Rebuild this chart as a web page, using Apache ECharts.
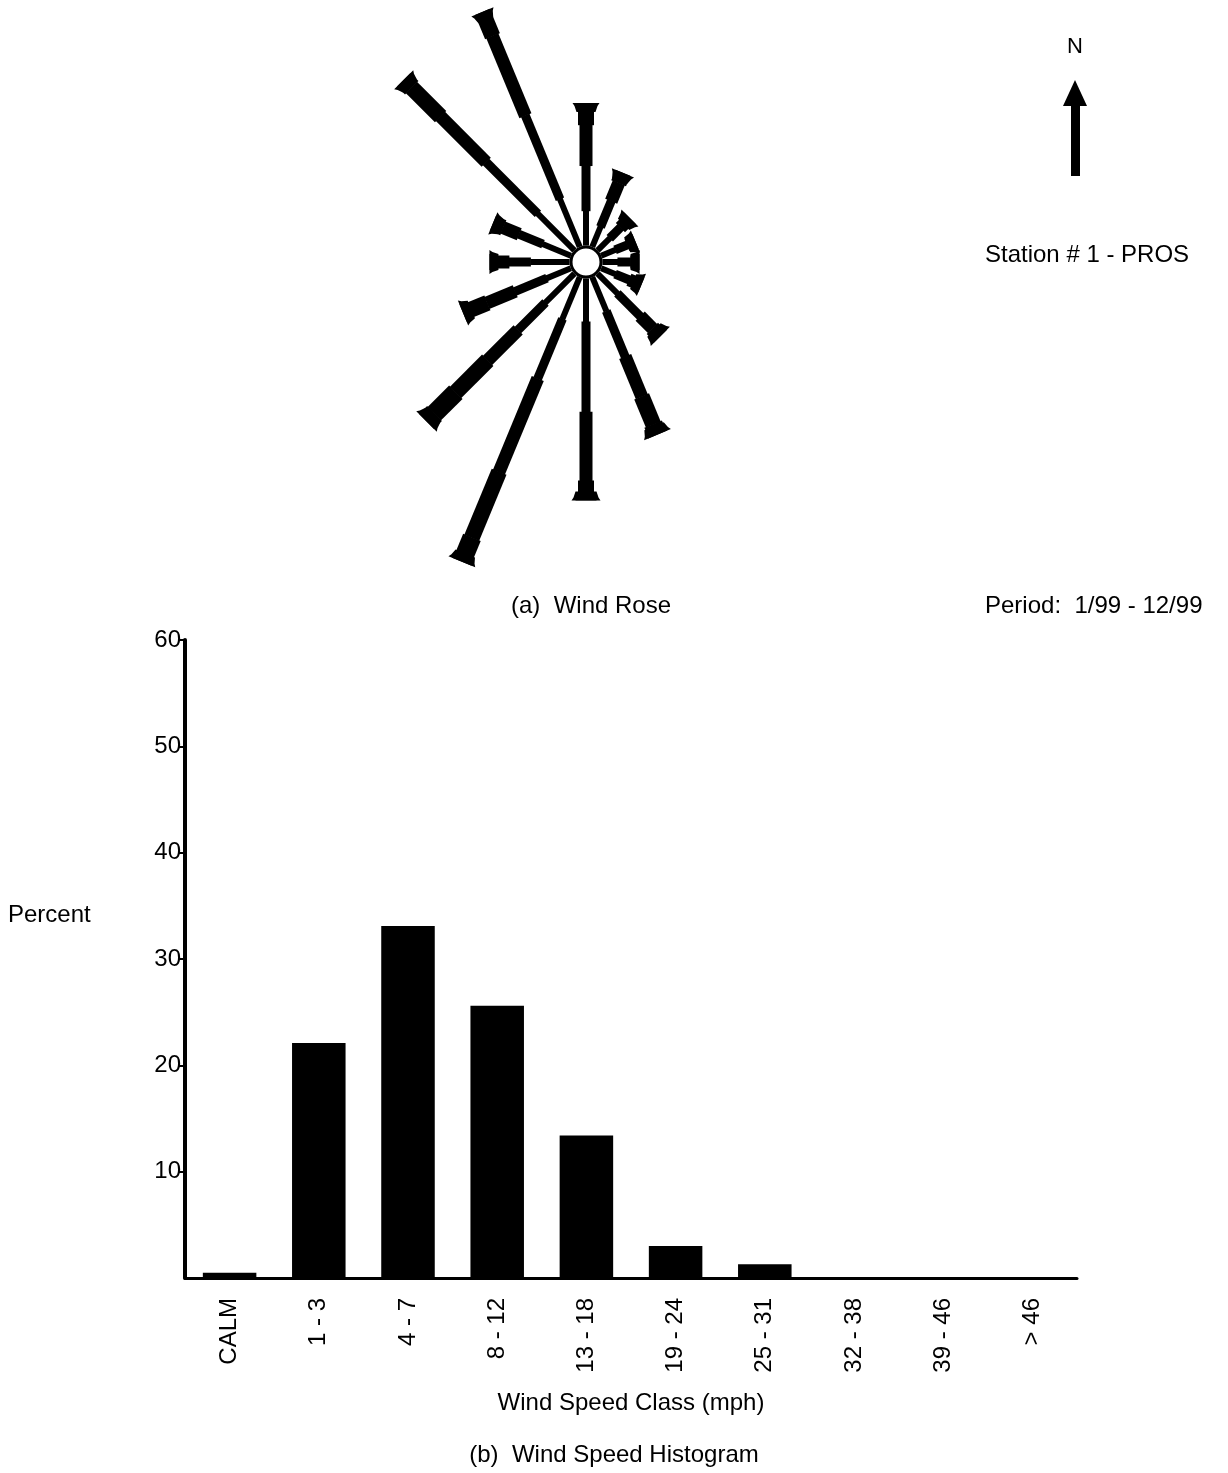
<!DOCTYPE html>
<html><head><meta charset="utf-8">
<script src="https://cdn.jsdelivr.net/npm/echarts@6/dist/echarts.min.js"></script>
<style>html,body{margin:0;padding:0;background:#fff}#c{width:1228px;height:1473px}</style>
</head><body><div id="c"></div>
<script>
// ---- Wind rose data (percent of time, per direction, per speed class) ----
const directions = ['N','NNE','NE','ENE','E','ESE','SE','SSE','S','SSW','SW','WSW','W','WNW','NW','NNW'];
const rose_1_3   = [1.6,1.0,0.8,0.7,0.7,0.7,1.3,1.7,2.0,2.1,1.9,1.2,1.8,1.4,2.4,2.4];
const rose_4_7   = [2.1,1.3,0.7,0.6,0.6,0.7,1.5,2.3,4.2,3.0,1.8,1.6,1.0,1.2,3.4,4.2];
const rose_8_12  = [1.9,0.9,0.4,0.3,0.3,0.4,0.8,2.0,3.2,4.7,2.0,1.4,0.6,0.8,3.0,4.0];
const rose_13_18 = [0.8,0.5,0.2,0.1,0.1,0.2,0.4,1.4,0.6,3.3,2.1,0.9,0.3,0.5,1.9,1.2];
const rose_19_24 = [0.2,0,0,0,0,0,0.1,0.4,0.2,1.0,1.4,0.3,0,0,0.5,0];
const rose_25_31 = [0,0,0,0,0,0,0,0.1,0.1,0.2,0.5,0,0,0,0,0];

// ---- Histogram data ----
const speedClasses = ['CALM','1 - 3','4 - 7','8 - 12','13 - 18','19 - 24','25 - 31','32 - 38','39 - 46','> 46'];
const speedPercent = [0.5,22.1,33.1,25.6,13.4,3.0,1.3,0,0,0];
const yMin = 0, yMax = 60, yStep = 10;

const FONT = "'Liberation Sans',Arial,sans-serif";
const FS = 24;
const WIDTHS = [6,9,13,16,19,21];
const R0 = 17;

const roseData = directions.map((d,i)=>[i, rose_1_3[i], rose_4_7[i], rose_8_12[i], rose_13_18[i], rose_19_24[i], rose_25_31[i]]);

function renderSpoke(params, api){
  const idx = api.value(0);
  const th = idx*22.5*Math.PI/180;
  const c = api.coord([0,0]);
  const unit = api.size([1,1])[0];
  const ux=Math.sin(th), uy=-Math.cos(th);
  const px=Math.cos(th), py=Math.sin(th);
  const P=(r,w)=>[c[0]+ux*r+px*w, c[1]+uy*r+py*w];
  let r=R0; const children=[]; let lastW=WIDTHS[0]/2;
  for(let k=0;k<6;k++){
    const len=api.value(k+1)*unit; if(!(len>0)) continue;
    const w=WIDTHS[k]/2; const r1=r+len;
    children.push({type:'polygon', shape:{points:[P(r-0.6,-w),P(r1,-w),P(r1,w),P(r-0.6,w)]}, style:{fill:'#000'}});
    r=r1; lastW=w;
  }
  const cw = Math.max(lastW, 5.5);
  children.push({type:'polygon', shape:{points:[P(r-9,-cw),P(r-3,-cw-2),P(r,-cw-4),P(r,cw+4),P(r-3,cw+2),P(r-9,cw)]}, style:{fill:'#000'}});
  return {type:'group', children};
}
function renderHub(params, api){
  const c = api.coord([0,0]);
  return {type:'circle', shape:{cx:c[0], cy:c[1], r:15}, style:{fill:'#fff', stroke:'#000', lineWidth:3}};
}

const chart = echarts.init(document.getElementById('c'), null, {renderer:'canvas'});
chart.setOption({
  backgroundColor:'#fff',
  animation:false,
  textStyle:{fontFamily:FONT, color:'#000'},
  grid:[
    {left:185, top:640, width:892, height:638},
    {left:328, top:4, width:516, height:516}
  ],
  xAxis:[
    {type:'category', gridIndex:0, data:speedClasses,
     axisLine:{lineStyle:{color:'#000', width:3}}, axisTick:{show:false},
     axisLabel:{rotate:90, margin:20, fontSize:FS, color:'#000', fontFamily:FONT},
     name:'Wind Speed Class (mph)', nameLocation:'middle', nameGap:113,
     nameTextStyle:{fontSize:FS, color:'#000', fontFamily:FONT}},
    {type:'value', gridIndex:1, min:-12, max:12, show:false}
  ],
  yAxis:[
    {type:'value', gridIndex:0, min:yMin, max:yMax, interval:yStep,
     axisLine:{show:true, lineStyle:{color:'#000', width:4}},
     axisTick:{show:true, length:6, lineStyle:{color:'#000', width:2}},
     axisLabel:{showMinLabel:false, margin:4, fontSize:FS, color:'#000', fontFamily:FONT},
     splitLine:{show:false}},
    {type:'value', gridIndex:1, min:-12, max:12, show:false}
  ],
  series:[
    {type:'bar', xAxisIndex:0, yAxisIndex:0, data:speedPercent, barCategoryGap:'40%',
     itemStyle:{color:'#000'}},
    {type:'custom', xAxisIndex:1, yAxisIndex:1, renderItem:renderSpoke, data:roseData, clip:false, silent:true},
    {type:'custom', xAxisIndex:1, yAxisIndex:1, renderItem:renderHub, data:[[0,0]], clip:false, silent:true, z:3}
  ],
  graphic:[
    {type:'text', left:8, top:903, style:{text:'Percent', font:`${FS}px ${FONT}`, fill:'#000'}},
    {type:'text', left:511, top:594, style:{text:'(a)  Wind Rose', font:`${FS}px ${FONT}`, fill:'#000'}},
    {type:'text', left:985, top:594, style:{text:'Period:  1/99 - 12/99', font:`${FS}px ${FONT}`, fill:'#000'}},
    {type:'text', left:985, top:243, style:{text:'Station # 1 - PROS', font:`${FS}px ${FONT}`, fill:'#000'}},
    {type:'text', left:'center', top:1443, style:{text:'(b)  Wind Speed Histogram', font:`${FS}px ${FONT}`, fill:'#000'}},
    {type:'text', left:1067, top:36, style:{text:'N', font:`${FS-2}px ${FONT}`, fill:'#000'}},
    {type:'polygon', shape:{points:[[1075,80],[1063,106],[1087,106]]}, style:{fill:'#000'}},
    {type:'rect', shape:{x:1071, y:104, width:9, height:72}, style:{fill:'#000'}}
  ]
});
</script></body></html>
